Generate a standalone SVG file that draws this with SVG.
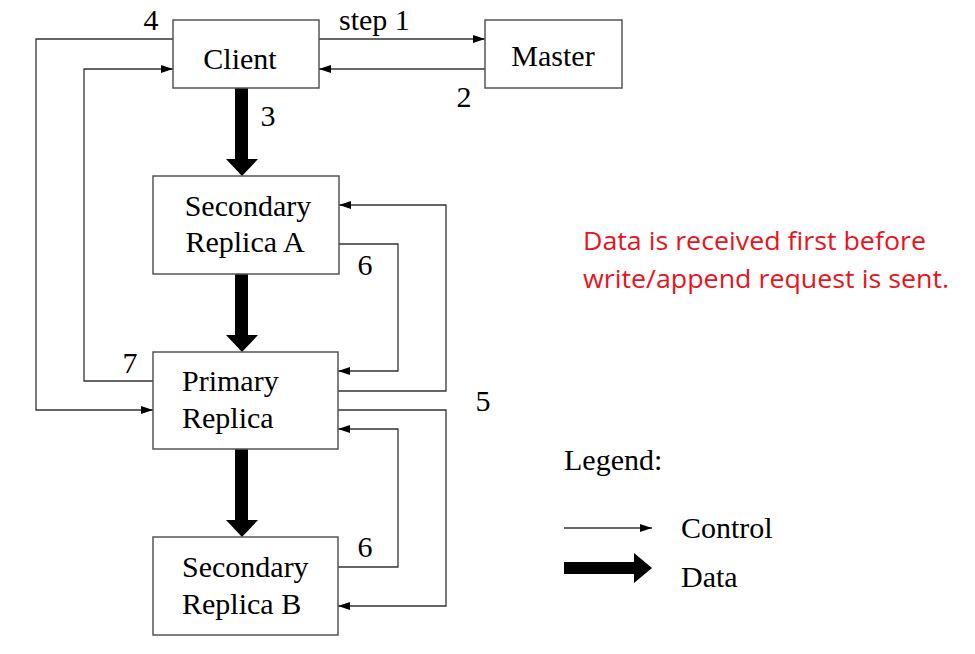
<svg xmlns="http://www.w3.org/2000/svg" width="975" height="654" viewBox="0 0 975 654">
<style>
.box{fill:#fff;stroke:#555;stroke-width:1.5}
.t{font-family:"Liberation Serif",serif;font-size:30px;fill:#000}
.c{fill:none;stroke:#333;stroke-width:1.3}
.r{font-family:"Open Sans","Liberation Sans",sans-serif;font-size:25px;fill:#e8141c}
</style>
<defs>
<marker id="a" markerWidth="12" markerHeight="8" refX="12" refY="4" orient="auto" markerUnits="userSpaceOnUse"><path d="M0,0L12,4L0,8z" fill="#000"/></marker>
</defs>
<rect width="975" height="654" fill="#fff"/>
<g id="connectors">
<path class="c" d="M319,39H485" marker-end="url(#a)"/>
<path class="c" d="M485,69H319" marker-end="url(#a)"/>
<path class="c" d="M173,39H36V410H153" marker-end="url(#a)"/>
<path class="c" d="M153,381H84V69H173" marker-end="url(#a)"/>
<path class="c" d="M339,244H398V371H338" marker-end="url(#a)"/>
<path class="c" d="M338,391H446V205H339" marker-end="url(#a)"/>
<path class="c" d="M338,410H446V606H338" marker-end="url(#a)"/>
<path class="c" d="M338,567H398V429H338" marker-end="url(#a)"/>
<path d="M235,88H248V159H258L242,176L226,159H235Z"/>
<path d="M235,274H248V335H258L242,352L226,335H235Z"/>
<path d="M235,449H248V520H258L242,537L226,520H235Z"/>
</g>
<g id="client"><rect class="box" x="173" y="20" width="146" height="68"/><text class="t" x="240" y="69" text-anchor="middle">Client</text></g>
<g id="master"><rect class="box" x="485" y="20" width="137" height="68"/><text class="t" x="553" y="66" text-anchor="middle">Master</text></g>
<g id="secA"><rect class="box" x="153" y="176" width="186" height="98"/><text class="t" x="248" y="216" text-anchor="middle">Secondary</text><text class="t" x="245" y="252" text-anchor="middle">Replica A</text></g>
<g id="primary"><rect class="box" x="153" y="352" width="185" height="97"/><text class="t" x="182" y="391">Primary</text><text class="t" x="182" y="428">Replica</text></g>
<g id="secB"><rect class="box" x="153" y="537" width="185" height="98"/><text class="t" x="182" y="577">Secondary</text><text class="t" x="182" y="614">Replica B</text></g>
<g id="labels">
<text class="t" x="151" y="30" text-anchor="middle">4</text>
<text class="t" x="339" y="30">step 1</text>
<text class="t" x="464" y="107" text-anchor="middle">2</text>
<text class="t" x="268" y="126" text-anchor="middle">3</text>
<text class="t" x="365" y="275" text-anchor="middle">6</text>
<text class="t" x="130" y="373" text-anchor="middle">7</text>
<text class="t" x="483" y="411" text-anchor="middle">5</text>
<text class="t" x="365" y="557" text-anchor="middle">6</text>
</g>
<g id="legend">
<text class="t" x="564" y="470">Legend:</text>
<path class="c" d="M564,528H652" marker-end="url(#a)"/>
<text class="t" x="681" y="538">Control</text>
<path d="M564,562H634V553L652,568L634,583V574H564Z"/>
<text class="t" x="681" y="587">Data</text>
</g>
<g id="note">
<text class="r" x="583" y="250" textLength="343" lengthAdjust="spacingAndGlyphs">Data is received first before</text>
<text class="r" x="583" y="288" textLength="366" lengthAdjust="spacingAndGlyphs">write/append request is sent.</text>
</g>
</svg>
